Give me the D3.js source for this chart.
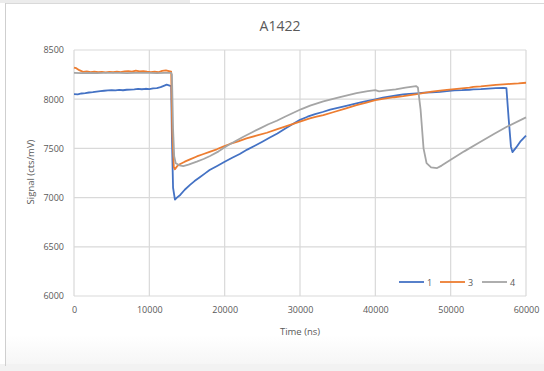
<!DOCTYPE html>
<html>
<head>
<meta charset="utf-8">
<script src="https://cdn.jsdelivr.net/npm/d3@7"></script>
<style>
  html, body { margin: 0; padding: 0; background: #ffffff; }
  svg { display: block; }
  text { font-family: "Open Sans", "Noto Sans", sans-serif; fill: #595959; }
</style>
</head>
<body>
<script>
// Time axis (ns) and signal (cts/mV) for channels 1, 3 and 4
const chartTitle = "A1422";
const xTicks = [0, 10000, 20000, 30000, 40000, 50000, 60000];
const yTicks = [6000, 6500, 7000, 7500, 8000, 8500];
const seriesNames = ["1", "3", "4"];
const seriesColors = ["#4472C4", "#ED7D31", "#A5A5A5"];

const ch1 = [
  [0, 8052], [500, 8050], [1000, 8058], [1500, 8062], [2000, 8068], [2500, 8072],
  [3000, 8078], [3500, 8082], [4000, 8086], [4500, 8090], [5000, 8092], [5500, 8089],
  [6000, 8094], [6500, 8091], [7000, 8096], [7500, 8098], [8000, 8100], [8500, 8104],
  [9000, 8101], [9500, 8106], [10000, 8103], [10500, 8110], [11000, 8112], [11500, 8122],
  [12000, 8138], [12300, 8148], [12600, 8141], [12900, 8132], [13000, 7600], [13150, 7100],
  [13400, 6980], [13700, 7002], [14100, 7027], [14700, 7080], [15400, 7129], [16000, 7168],
  [16700, 7207], [17400, 7246], [18000, 7280], [19000, 7322], [20000, 7365], [21000, 7405],
  [22000, 7443], [23000, 7488], [24000, 7527], [25000, 7568], [26000, 7610], [27000, 7652],
  [28000, 7700], [29000, 7745], [30000, 7790], [31000, 7822], [32000, 7848], [33000, 7870],
  [34000, 7895], [35000, 7912], [36000, 7930], [37500, 7957], [38500, 7975], [40000, 7998],
  [41000, 8015], [42000, 8028], [43000, 8040], [43700, 8049], [44500, 8055], [45500, 8060],
  [46500, 8066], [47500, 8070], [48600, 8075], [49500, 8082], [50500, 8090], [51500, 8092],
  [52500, 8096], [53000, 8099], [54000, 8102], [55000, 8108], [56000, 8112], [57000, 8116],
  [57400, 8112], [57700, 7800], [58000, 7520], [58200, 7462], [58700, 7510], [59300, 7575],
  [60000, 7630]
];

const ch3 = [
  [0, 8322], [300, 8315], [700, 8295], [1200, 8278], [1700, 8282], [2200, 8276],
  [2700, 8280], [3200, 8274], [3700, 8278], [4200, 8272], [4700, 8278], [5200, 8274],
  [5700, 8280], [6200, 8276], [6700, 8282], [7200, 8286], [7700, 8280], [8200, 8290],
  [8700, 8282], [9200, 8286], [9700, 8280], [10200, 8276], [10700, 8280], [11200, 8274],
  [11700, 8288], [12200, 8292], [12600, 8286], [12900, 8280], [13050, 7650], [13250, 7310],
  [13400, 7288], [13700, 7320], [14100, 7342], [14700, 7365], [15400, 7389], [16300, 7418],
  [17200, 7443], [18000, 7465], [18950, 7491], [19800, 7518], [20700, 7545], [21800, 7572],
  [22900, 7602], [24200, 7630], [25600, 7659], [27000, 7695], [28200, 7727], [29500, 7760],
  [30500, 7785], [31300, 7805], [32200, 7822], [33100, 7839], [34500, 7870], [36000, 7905],
  [37500, 7940], [38800, 7965], [40000, 7991], [41200, 8005], [42500, 8020], [43700, 8031],
  [44600, 8042], [45500, 8052], [46500, 8065], [47500, 8078], [48600, 8087], [49500, 8095],
  [50500, 8102], [51500, 8110], [52500, 8118], [53000, 8126], [54000, 8130], [55000, 8138],
  [56000, 8145], [57000, 8150], [58000, 8156], [59000, 8160], [60000, 8167]
];

const ch4 = [
  [0, 8268], [1000, 8266], [2000, 8268], [3000, 8266], [4000, 8268], [5000, 8267],
  [6000, 8268], [7000, 8266], [8000, 8268], [9000, 8267], [10000, 8268], [11000, 8266],
  [12000, 8268], [12900, 8268], [13000, 8250], [13150, 7700], [13300, 7420], [13500, 7350],
  [14000, 7328], [14500, 7321], [15200, 7335], [16300, 7365], [17200, 7392], [18060, 7423],
  [19200, 7470], [20280, 7524], [21400, 7572], [22490, 7619], [23600, 7662], [24700, 7704],
  [25800, 7745], [26920, 7781], [28000, 7822], [29130, 7862], [30200, 7900], [31340, 7935],
  [33100, 7978], [35300, 8022], [37500, 8062], [39000, 8082], [40000, 8092], [40500, 8080],
  [41500, 8090], [42700, 8100], [44000, 8118], [45400, 8133], [45650, 8120], [46000, 7900],
  [46400, 7500], [46800, 7350], [47400, 7308], [48200, 7300], [48800, 7325], [49900, 7380],
  [51800, 7470], [53800, 7560], [55800, 7648], [57450, 7720], [60000, 7815]
];

const seriesData = [ch1, ch3, ch4];

const W = 544, H = 371;
const plot = { left: 74, right: 526, top: 50, bottom: 296 };

const svg = d3.select("body").append("svg")
  .attr("width", W).attr("height", H);

// outer frame of the chart area
svg.append("rect").attr("x", 0).attr("y", 0).attr("width", 190).attr("height", 3).attr("fill", "#ececec");
svg.append("rect").attr("x", 0).attr("y", 364).attr("width", W).attr("height", 7).attr("fill", "#f2f2f2");
const grad = svg.append("defs").append("linearGradient")
  .attr("id", "fade").attr("x1", 0).attr("y1", 0).attr("x2", 0).attr("y2", 1);
grad.append("stop").attr("offset", 0).attr("stop-color", "#ffffff");
grad.append("stop").attr("offset", 1).attr("stop-color", "#f6f6f6");
svg.append("rect").attr("x", 5).attr("y", 335).attr("width", W - 5).attr("height", 29).attr("fill", "url(#fade)");
svg.append("line").attr("x1", 5).attr("x2", W).attr("y1", 3.5).attr("y2", 3.5).attr("stroke", "#d9d9d9");
svg.append("line").attr("x1", 5.5).attr("x2", 5.5).attr("y1", 3).attr("y2", 366).attr("stroke", "#cfcfcf");

const x = d3.scaleLinear().domain([0, 60000]).range([plot.left, plot.right]);
const y = d3.scaleLinear().domain([6000, 8500]).range([plot.bottom, plot.top]);

// gridlines
svg.append("g").selectAll("line.h").data(yTicks).join("line")
  .attr("x1", plot.left).attr("x2", plot.right)
  .attr("y1", d => y(d)).attr("y2", d => y(d))
  .attr("stroke", "#d9d9d9").attr("stroke-width", 1.2);
svg.append("g").selectAll("line.v").data(xTicks).join("line")
  .attr("y1", plot.top).attr("y2", plot.bottom)
  .attr("x1", d => x(d)).attr("x2", d => x(d))
  .attr("stroke", "#d9d9d9").attr("stroke-width", 1.2);

// axes
const yAxis = svg.append("g").attr("transform", `translate(${plot.left},0)`)
  .call(d3.axisLeft(y).tickValues(yTicks).tickSize(0).tickPadding(10).tickFormat(d3.format("d")));
yAxis.select(".domain").remove();
yAxis.selectAll("text").attr("font-size", 9).attr("fill", "#595959")
  .style("font-family", "'Open Sans', sans-serif");

const xAxis = svg.append("g").attr("transform", `translate(0,${plot.bottom})`)
  .call(d3.axisBottom(x).tickValues(xTicks).tickSize(0).tickPadding(11).tickFormat(d3.format("d")));
xAxis.select(".domain").remove();
xAxis.selectAll("text").attr("font-size", 9).attr("fill", "#595959")
  .style("font-family", "'Open Sans', sans-serif");

// series lines
const line = d3.line().x(d => x(d[0])).y(d => y(d[1]));
seriesData.forEach((data, i) => {
  svg.append("path").datum(data)
    .attr("d", line)
    .attr("fill", "none")
    .attr("stroke", seriesColors[i])
    .attr("stroke-width", 1.8)
    .attr("stroke-linejoin", "round");
});

// title and axis titles
svg.append("text").attr("x", 280).attr("y", 31).attr("text-anchor", "middle")
  .attr("font-size", 14).text(chartTitle);
svg.append("text").attr("x", 300).attr("y", 335).attr("text-anchor", "middle")
  .attr("font-size", 9.5).text("Time (ns)");
svg.append("text").attr("transform", "translate(34,172) rotate(-90)")
  .attr("text-anchor", "middle").attr("font-size", 9.5).text("Signal (cts/mV)");

// legend
const legendX = [399, 440, 482];
const legend = svg.append("g");
seriesNames.forEach((name, i) => {
  legend.append("line")
    .attr("x1", legendX[i]).attr("x2", legendX[i] + 25)
    .attr("y1", 282).attr("y2", 282)
    .attr("stroke", seriesColors[i]).attr("stroke-width", 1.8);
  legend.append("text")
    .attr("x", legendX[i] + 28).attr("y", 285.5)
    .attr("font-size", 9).text(name);
});
</script>
</body>
</html>
